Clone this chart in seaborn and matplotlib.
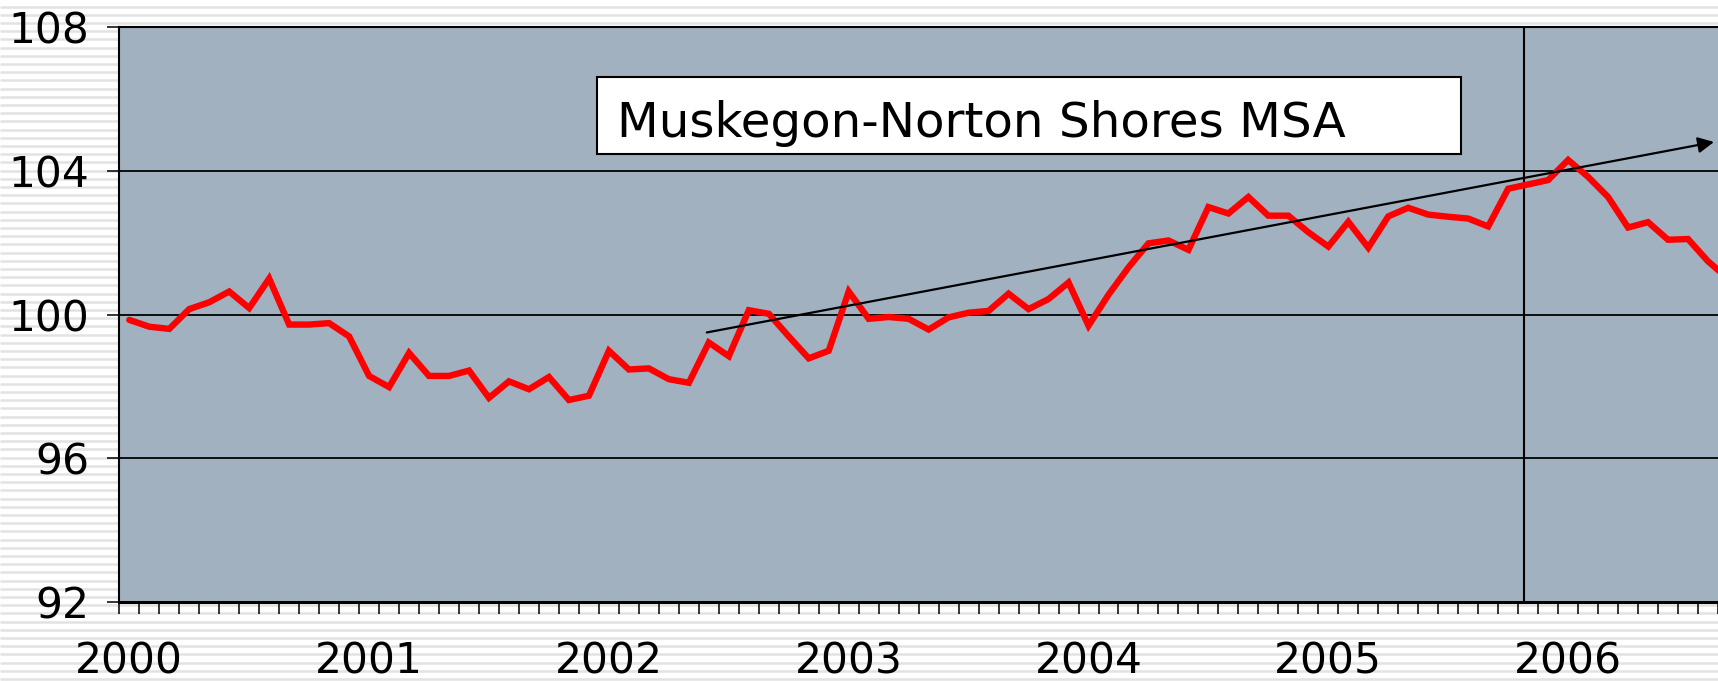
import numpy as np
import pandas as pd
import matplotlib
matplotlib.use("Agg")
import matplotlib.pyplot as plt
import seaborn as sns
from matplotlib.patches import Rectangle

# Monthly index, Jan 2000 onwards (chart is cropped on the right)
MONTHS = pd.date_range("2000-01-01", periods=81, freq="MS")
INDEX_VALUES = [
    99.85, 99.66, 99.60, 100.15, 100.34, 100.64, 100.18, 101.00, 99.72, 99.72, 99.76, 99.39,
    98.29, 97.98, 98.93, 98.29, 98.29, 98.44, 97.68, 98.14, 97.92, 98.26, 97.62, 97.74,
    98.99, 98.47, 98.50, 98.20, 98.10, 99.22, 98.84, 100.12, 100.02, 99.39, 98.78, 98.99,
    100.64, 99.88, 99.93, 99.88, 99.58, 99.92, 100.05, 100.10, 100.58, 100.15, 100.43, 100.89,
    99.69, 100.55, 101.31, 101.98, 102.06, 101.80, 102.99, 102.81, 103.27, 102.75, 102.75, 102.29,
    101.89, 102.58, 101.86, 102.73, 102.97, 102.78, 102.72, 102.67, 102.45, 103.50, 103.62, 103.74,
    104.30, 103.83, 103.27, 102.42, 102.57, 102.08, 102.10, 101.48, 101.00,
]
YEAR_LABELS = ["2000", "2001", "2002", "2003", "2004", "2005", "2006"]
Y_TICKS = [92, 96, 100, 104, 108]
TITLE = "Muskegon-Norton Shores MSA"

# annotations (month position, index value)
TREND_START = (28.9, 99.50)
TREND_END = (79.3, 104.80)
MARKER_POS = 69.8

sns.set_theme(style="white")
plt.rcParams["font.family"] = ["DejaVu Sans"]

fig = plt.figure(figsize=(17.18, 6.81), dpi=100)
fig.patch.set_facecolor("white")

# striped slide background
bg = fig.add_axes([0, 0, 1, 1], zorder=-10)
bg.set_xlim(0, 1)
bg.set_ylim(0, 681)
bg.hlines(np.arange(2, 681, 8.2), 0, 1, color="#e2e2e2", lw=1.8)
bg.axis("off")

ax = fig.add_axes([119.3 / 1718, 79 / 681, 1 - 119.3 / 1718, 575 / 681])
ax.set_facecolor("#a2b1c0")

df = pd.DataFrame({"pos": np.arange(len(MONTHS)), "month": MONTHS, "value": INDEX_VALUES})
sns.lineplot(data=df, x="pos", y="value", color="#ff0000", lw=4.6, ax=ax, zorder=3)
ax.lines[0].set_solid_joinstyle("miter")

ax.set_xlim(-0.5, 79.43)
ax.set_ylim(92, 108)

jan = df.loc[df["month"].dt.month == 1, "pos"]
ax.set_xticks(jan)
ax.set_xticklabels(YEAR_LABELS[:len(jan)])
ax.set_xticks(df["pos"] - 0.5, minor=True)
ax.tick_params(axis="x", which="major", length=0, pad=28, labelsize=30.5, colors="black")
ax.tick_params(axis="x", which="minor", length=8.6, width=1.1, direction="out", color="black", bottom=True)

ax.set_yticks(Y_TICKS)
ax.tick_params(axis="y", length=8.6, width=1.1, direction="out", pad=13, labelsize=30.5,
               colors="black", left=True)

ax.grid(axis="y", color="black", lw=1.3)
ax.grid(axis="x", visible=False)
ax.set_axisbelow(True)
ax.set_xlabel("")
ax.set_ylabel("")

for side in ["left", "top", "bottom"]:
    ax.spines[side].set_color("black")
    ax.spines[side].set_visible(True)
ax.spines["left"].set_linewidth(1.5)
ax.spines["top"].set_linewidth(1.5)
ax.spines["bottom"].set_linewidth(2.2)
ax.spines["right"].set_visible(False)

ax.axvline(MARKER_POS, color="black", lw=1.5, zorder=2)

ax.annotate("", xy=TREND_END, xytext=TREND_START,
            arrowprops=dict(arrowstyle="-|>", color="black", lw=1.6,
                            mutation_scale=24, shrinkA=0, shrinkB=0),
            zorder=5)

ax.add_patch(Rectangle((0.2988, 0.779), 0.5404, 0.134, transform=ax.transAxes,
                       facecolor="white", edgecolor="black", lw=1.5, zorder=6))
ax.text(0.3113, 0.8087, TITLE, transform=ax.transAxes, fontsize=34.8,
        va="baseline", ha="left", color="black", zorder=7)

fig.savefig("out.png", dpi=100)
